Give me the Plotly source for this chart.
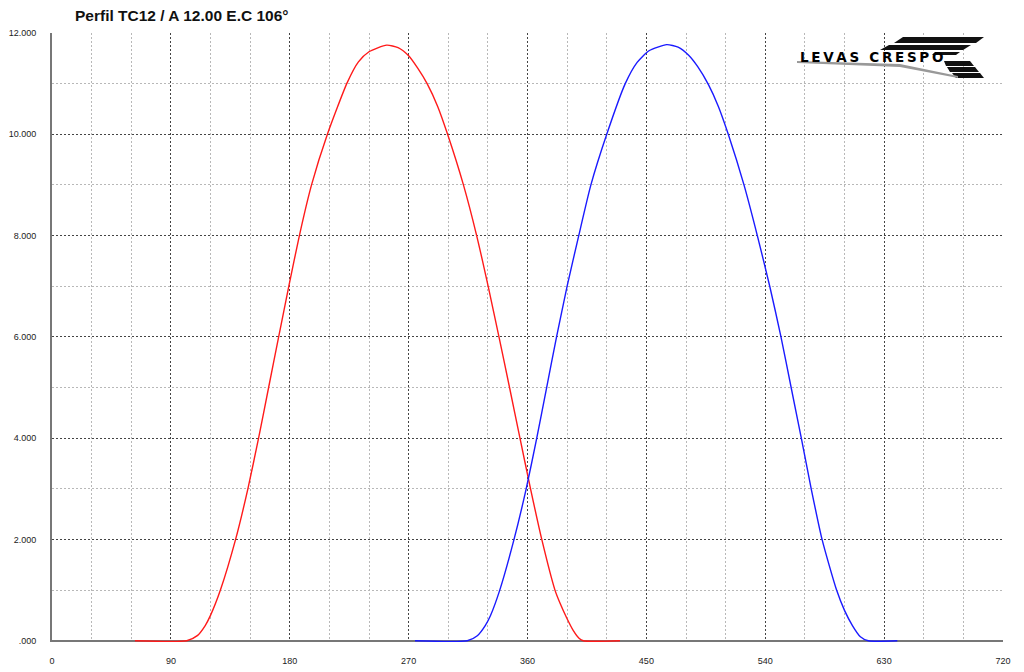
import plotly.graph_objects as go

# cam lift profiles (degrees, lift)
red_deg = [62.8, 102, 110, 116, 120, 127.5, 139, 148.3, 156.4, 164, 171.6, 179.3, 187.3,
           196.5, 208.5, 223.5, 232, 240, 253.4, 262, 270, 277, 284, 292, 299.5, 311.5, 321.5,
           330.2, 338.4, 346.4, 354.3, 362.3, 370.8, 380.8, 384.5, 389.7, 394.7, 399, 402.3, 430]
red_lift = [0, 0, 0.1, 0.3, 0.5, 1, 2, 3, 4, 5, 6, 7, 8,
            9, 10, 11.02, 11.43, 11.63, 11.76, 11.71, 11.55, 11.3, 11, 10.55, 10, 9, 8,
            7, 6, 5, 4, 3, 2, 1, 0.75, 0.45, 0.2, 0.05, 0, 0]

blue_deg = [274.8, 314.4, 322, 328, 332, 339, 349.8, 359, 367, 374.5, 382, 390, 398.8,
            408, 420, 434, 443, 452, 465.4, 474, 482, 489, 497, 504.5, 512, 523.9, 534,
            543.4, 551.9, 559.6, 567.3, 574.8, 583, 594, 600, 606, 612, 618, 640]
blue_lift = [0, 0, 0.1, 0.3, 0.5, 1, 2, 3, 4, 5, 6, 7, 8,
             9, 10, 11.0, 11.42, 11.65, 11.77, 11.72, 11.56, 11.33, 10.98, 10.55, 10, 9, 8,
             7, 6, 5, 4, 3, 2, 1, 0.6, 0.3, 0.08, 0, 0]

x_ticks = [0, 90, 180, 270, 360, 450, 540, 630, 720]
y_ticks = [0, 2, 4, 6, 8, 10, 12]
y_ticktext = ['.000', '2.000', '4.000', '6.000', '8.000', '10.000', '12.000']

title_text = 'Perfil TC12 / A 12.00 E.C 106°'
logo_text = 'LEVAS CRESPO'

W, H = 1024, 672
L, R, T, B = 52, 1003, 33, 642
Y_MIN = -0.025   # a hair below zero so the flat parts of the curves stay visible


def px(x, y):
    # pixel position -> paper coordinates
    return (x - L) / (R - L), (B - y) / (B - T)


def poly(points):
    pts = [px(x, y) for x, y in points]
    return 'M ' + ' L '.join(f'{a:.5f},{b:.5f}' for a, b in pts) + ' Z'


fig = go.Figure()
fig.add_trace(go.Scatter(x=red_deg, y=red_lift, mode='lines',
                         line=dict(color='#ff1a1a', width=1.4, shape='spline', smoothing=0.6),
                         hoverinfo='skip'))
fig.add_trace(go.Scatter(x=blue_deg, y=blue_lift, mode='lines',
                         line=dict(color='#1a1aff', width=1.4, shape='spline', smoothing=0.6),
                         hoverinfo='skip'))

# logo: striped chevron + text
shapes = []
stripes = [
    [(903, 37), (984, 37), (976, 43), (894, 43)],
    [(889, 45), (971, 45), (963, 50), (880, 50)],
    [(935, 52), (960, 52), (956, 55), (932, 55)],
    [(944, 61), (970, 61), (974, 66), (946, 66)],
    [(947, 67), (975, 67), (979, 72), (950, 72)],
    [(952, 73), (980, 73), (984, 78), (956, 78)],
]
for s in stripes:
    shapes.append(dict(type='path', xref='paper', yref='paper', path=poly(s),
                       fillcolor='#111111', line=dict(width=0), layer='above'))
shapes.append(dict(type='path', xref='paper', yref='paper',
                   path=poly([(797, 61), (900, 64), (958, 76), (958, 78), (900, 67), (797, 63)]),
                   fillcolor='#999999', line=dict(width=0), layer='above'))

lx, ly = px(871, 57)
fig.add_annotation(x=lx, y=ly, xref='paper', yref='paper', showarrow=False,
                   text='<b>' + '\u2009'.join(logo_text) + '</b>',
                   font=dict(family='DejaVu Sans', size=13.5, color='#000000'),
                   xanchor='center', yanchor='middle')

grid_dash = '2px,2px'
fig.update_layout(
    width=W, height=H,
    margin=dict(l=L, r=W - R, t=T, b=H - B, autoexpand=False),
    paper_bgcolor='white', plot_bgcolor='white',
    showlegend=False,
    font=dict(family='Liberation Sans, Arial', size=9, color='#222222'),
    title=dict(text='<b>' + title_text + '</b>', x=75 / W, xanchor='left', xref='container',
               y=1 - 16 / H, yanchor='middle', yref='container',
               font=dict(family='Liberation Sans, Arial', size=15.5, color='#111111')),
    shapes=shapes,
)
fig.update_xaxes(range=[0, 720], tickvals=x_ticks, ticktext=[str(v) for v in x_ticks],
                 showgrid=True, gridcolor='#444444', griddash=grid_dash, gridwidth=1,
                 minor=dict(dtick=30, showgrid=True, gridcolor='#b8b8b8', griddash=grid_dash, gridwidth=1),
                 zeroline=False, showline=False,
                 ticks='', ticklabelstandoff=12, layer='below traces', fixedrange=True)
# the zero line of the y axis plays the part of the solid bottom axis
fig.update_yaxes(range=[Y_MIN, 12], tickvals=y_ticks, ticktext=y_ticktext,
                 showgrid=True, gridcolor='#444444', griddash=grid_dash, gridwidth=1,
                 minor=dict(dtick=1, showgrid=True, gridcolor='#b8b8b8', griddash=grid_dash, gridwidth=1),
                 zeroline=True, zerolinecolor='#777777', zerolinewidth=2,
                 showline=True, linecolor='#777777', linewidth=2,
                 ticks='', ticklabelstandoff=12, layer='below traces', fixedrange=True)

fig.write_html('out.html', config=dict(displayModeBar=False),
               post_script="document.body.style.margin='0';document.body.style.overflow='hidden';")
